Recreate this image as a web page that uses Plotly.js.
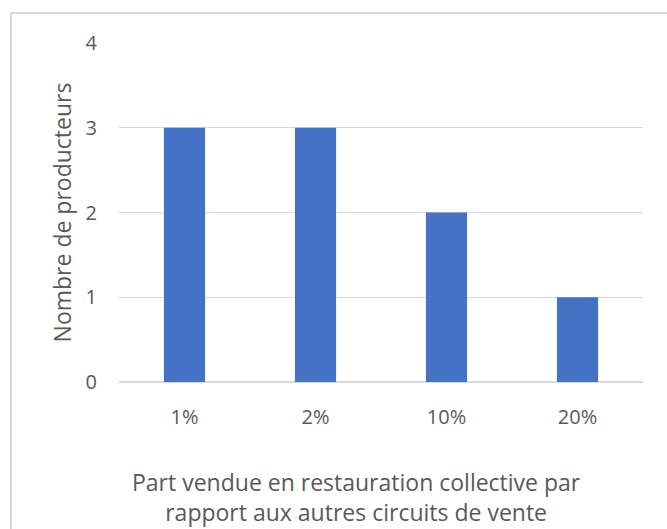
<!DOCTYPE html>
<html>
<head>
<meta charset="utf-8">
<script src="https://cdn.plot.ly/plotly-3.0.1.min.js"></script>
<style>
  html, body { margin: 0; padding: 0; overflow: hidden; background: #fff; }
  #frame { position: absolute; left: 10px; top: 12px; width: 700px; height: 560px;
           border: 2px solid #d9d9d9; box-sizing: border-box; }
  #chart { position: absolute; left: 0; top: 0; width: 667px; height: 529px; }
</style>
</head>
<body>
<div id="frame"></div>
<div id="chart"></div>
<script>
const categories = ["1%", "2%", "10%", "20%"];
const producteurs = [3, 3, 2, 1];
const xTitle = "Part vendue en restauration collective par<br>rapport aux autres circuits de vente";
const yTitle = "Nombre de producteurs";

const font = "'Open Sans', sans-serif";

Plotly.newPlot("chart", [{
  type: "bar",
  x: categories,
  y: producteurs,
  marker: { color: "#4472C4" },
  hoverinfo: "x+y"
}], {
  width: 667, height: 529,
  margin: { l: 119, r: 24, t: 43, b: 147 },
  paper_bgcolor: "rgba(0,0,0,0)",
  plot_bgcolor: "rgba(0,0,0,0)",
  bargap: 0.686,
  showlegend: false,
  font: { family: font, color: "#595959", size: 20 },
  xaxis: {
    type: "category",
    showgrid: false,
    showline: false,
    zeroline: false,
    ticks: "outside", ticklen: 17, tickcolor: "rgba(0,0,0,0)",
    tickfont: { family: font, size: 20, color: "#595959" }
  },
  yaxis: {
    range: [0, 4],
    dtick: 1,
    showgrid: true, gridcolor: "#d9d9d9", gridwidth: 1,
    zeroline: true, zerolinecolor: "#d9d9d9", zerolinewidth: 2,
    showline: false,
    ticks: "outside", ticklen: 17, tickcolor: "rgba(0,0,0,0)",
    tickfont: { family: font, size: 20, color: "#595959" },
    title: { text: yTitle, font: { family: font, size: 23, color: "#595959" }, standoff: 7 }
  },
  annotations: [{
    text: xTitle,
    xref: "paper", yref: "paper",
    x: 0.454, y: -0.340,
    xanchor: "center", yanchor: "middle",
    showarrow: false,
    font: { family: font, size: 23, color: "#595959" }
  }]
}, { displayModeBar: false });
</script>
</body>
</html>
